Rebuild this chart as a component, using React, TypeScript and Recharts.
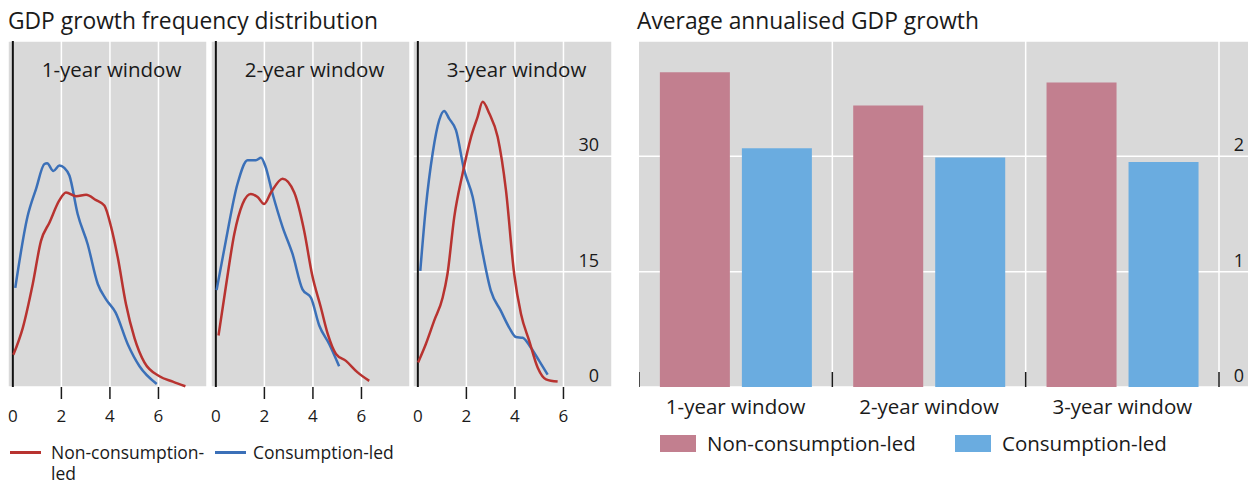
import React from "react";
import {
  LineChart,
  Line,
  XAxis,
  YAxis,
  CartesianGrid,
  ReferenceLine,
  BarChart,
  Bar,
} from "recharts";

const FONT = '"Open Sans", "Noto Sans", sans-serif';
const INK = "#1a1a1a";
const GRAY = "#d9d9d9";
const RED = "#b83330";
const BLUE = "#3b70b8";
const PINK = "#c27f8f";
const SKY = "#6aace0";

// left panels: kernel densities of GDP growth, [growth, frequency]
const windows = ["1-year window", "2-year window", "3-year window"];
const growthTicks = [0, 2, 4, 6];
const freqTicks = [0, 15, 30];

const nonCons1 = [
  [0.02, 4.2], [0.41, 7.7], [0.82, 13.4], [1.16, 19.0], [1.51, 21.4], [1.92, 24.3],
  [2.19, 25.3], [2.61, 24.8], [3.02, 25.0], [3.43, 24.3], [3.77, 23.6], [4.05, 20.8],
  [4.32, 16.9], [4.66, 10.8], [5.01, 6.4], [5.42, 3.2], [6.04, 1.4], [6.59, 0.7], [7.11, 0.1],
];
const cons1 = [
  [0.1, 12.9], [0.6, 22.1], [0.96, 25.8], [1.3, 29.0], [1.41, 29.1], [1.67, 28.1],
  [1.92, 28.8], [2.12, 28.5], [2.33, 27.5], [2.67, 22.5], [3.08, 18.6], [3.5, 13.4],
  [3.84, 11.4], [4.23, 9.7], [4.73, 5.6], [5.22, 2.7], [5.93, 0.4],
];
const nonCons2 = [
  [0.11, 6.7], [0.41, 13.0], [0.76, 19.9], [1.1, 23.8], [1.44, 25.1], [1.72, 24.7],
  [1.99, 23.8], [2.27, 25.3], [2.75, 27.1], [3.23, 25.3], [3.64, 20.3], [3.96, 14.7],
  [4.33, 10.3], [4.61, 6.9], [4.95, 4.3], [5.36, 3.4], [5.84, 1.9], [6.32, 0.8],
];
const cons2 = [
  [0.03, 12.6], [0.41, 19.0], [0.89, 26.4], [1.31, 29.5], [1.65, 29.5], [1.86, 29.8],
  [2.03, 28.8], [2.34, 25.1], [2.75, 20.8], [3.16, 17.3], [3.57, 12.7], [3.92, 11.6],
  [4.26, 8.0], [4.67, 5.6], [5.08, 2.7],
];
const nonCons3 = [
  [0.01, 3.2], [0.33, 5.6], [0.67, 8.6], [1.02, 11.6], [1.22, 14.7], [1.5, 22.1],
  [1.84, 27.7], [2.19, 32.5], [2.46, 35.1], [2.67, 37.1], [2.94, 35.6], [3.29, 32.5],
  [3.63, 25.6], [3.97, 14.7], [4.25, 9.5], [4.59, 6.0], [4.94, 2.5], [5.28, 1.0], [5.76, 0.7],
];
const cons3 = [
  [0.1, 15.1], [0.33, 23.4], [0.61, 30.4], [0.88, 34.7], [1.08, 35.9], [1.29, 34.9],
  [1.57, 33.4], [1.91, 28.2], [2.26, 24.7], [2.6, 18.6], [3.01, 12.5], [3.42, 9.9],
  [3.77, 7.7], [4.04, 6.5], [4.32, 6.4], [4.66, 5.1], [5.0, 3.4], [5.35, 1.6],
];

// right panel: average annualised GDP growth, %
const nonConsGrowth = [2.73, 2.44, 2.64];
const consGrowth = [2.07, 1.99, 1.95];
const growthAxisTicks = [0, 1, 2];

const panels = [
  { title: windows[0], nonCons: nonCons1, cons: cons1, left: 8 },
  { title: windows[1], nonCons: nonCons2, cons: cons2, left: 211 },
  { title: windows[2], nonCons: nonCons3, cons: cons3, left: 413 },
];

const toPoints = (rows: number[][]) => rows.map(([x, y]) => ({ x, y }));

const PANEL_W = 199;
const PLOT_TOP = 41;
const PLOT_H = 346;
const BAR_W = 609;
const BAR_PAD_R = 29;
const BAR_BAND = (BAR_W - BAR_PAD_R) / windows.length;

function GrowthTick({ x, y, payload }: any) {
  return (
    <g>
      {payload.value !== 0 && (
        <line x1={x} x2={x} y1={y} y2={y + 12} stroke={INK} strokeWidth={1.5} />
      )}
      <text x={x} y={y + 35} textAnchor="middle" fontSize={17} fill={INK} fontFamily={FONT}>
        {payload.value}
      </text>
    </g>
  );
}

function InsideRightTick({ x, y, payload, inset }: any) {
  return (
    <text x={x - inset} y={y - 5} textAnchor="end" fontSize={18} fill={INK} fontFamily={FONT}>
      {payload.value}
    </text>
  );
}

function WindowTick({ x, y, payload, index }: any) {
  const half = BAR_BAND / 2;
  return (
    <g>
      <line x1={x - half} x2={x - half} y1={y - 15} y2={y} stroke={INK} strokeWidth={1.5} />
      {index === windows.length - 1 && (
        <line x1={x + half} x2={x + half} y1={y - 15} y2={y} stroke={INK} strokeWidth={1.5} />
      )}
      <text x={x} y={y + 27} textAnchor="middle" fontSize={20.5} fill={INK} fontFamily={FONT}>
        {payload.value}
      </text>
    </g>
  );
}

function DensityPanel({ panel, showAxis }: { panel: (typeof panels)[number]; showAxis: boolean }) {
  return (
    <div style={{ position: "absolute", left: panel.left, top: PLOT_TOP }}>
      <LineChart width={PANEL_W} height={PLOT_H + 45} margin={{ top: 0, right: 0, bottom: 0, left: 0 }}>
        <CartesianGrid fill={GRAY} stroke="#fff" strokeWidth={1.5} />
        <XAxis
          type="number"
          dataKey="x"
          domain={[-0.2, 8]}
          ticks={growthTicks}
          allowDataOverflow
          axisLine={false}
          tickLine={false}
          tickSize={0}
          tickMargin={0}
          height={45}
          tick={<GrowthTick />}
        />
        <YAxis
          type="number"
          domain={[0, 45]}
          ticks={freqTicks}
          orientation="right"
          mirror
          width={1}
          axisLine={false}
          tickLine={false}
          tickSize={0}
          tickMargin={0}
          tick={showAxis ? <InsideRightTick inset={13} /> : false}
        />
        <ReferenceLine x={0} stroke="#111" strokeWidth={2} />
        <Line
          data={toPoints(panel.cons)}
          dataKey="y"
          type="monotone"
          stroke={BLUE}
          strokeWidth={2.5}
          dot={false}
          isAnimationActive={false}
        />
        <Line
          data={toPoints(panel.nonCons)}
          dataKey="y"
          type="monotone"
          stroke={RED}
          strokeWidth={2.5}
          dot={false}
          isAnimationActive={false}
        />
      </LineChart>
      <div
        style={{
          position: "absolute",
          left: 4,
          top: 15,
          width: PANEL_W,
          textAlign: "center",
          fontSize: 20.5,
          color: INK,
          lineHeight: "26px",
        }}
      >
        {panel.title}
      </div>
    </div>
  );
}

export default function App() {
  const barData = windows.map((w, i) => ({
    window: w,
    nonCons: nonConsGrowth[i],
    cons: consGrowth[i],
  }));

  return (
    <div
      style={{
        position: "absolute",
        left: 0,
        top: 0,
        width: 1252,
        height: 484,
        background: "#fff",
        fontFamily: FONT,
        color: INK,
      }}
    >
      <div style={{ position: "absolute", left: 8, top: 7, fontSize: 22.8, lineHeight: "28px" }}>
        GDP growth frequency distribution
      </div>
      <div style={{ position: "absolute", left: 637, top: 7, fontSize: 22.8, lineHeight: "28px" }}>
        Average annualised GDP growth
      </div>

      {panels.map((p, i) => (
        <DensityPanel key={p.title} panel={p} showAxis={i === panels.length - 1} />
      ))}

      {/* left legend */}
      <div style={{ position: "absolute", left: 10, top: 442, fontSize: 17.5, lineHeight: "21px" }}>
        <div style={{ position: "absolute", left: 0, top: 9, width: 31, height: 3, background: RED }} />
        <div style={{ position: "absolute", left: 41, top: 0, width: 162 }}>Non-consumption-led</div>
        <div style={{ position: "absolute", left: 205, top: 9, width: 31, height: 3, background: BLUE }} />
        <div style={{ position: "absolute", left: 243, top: 0, whiteSpace: "nowrap" }}>Consumption-led</div>
      </div>

      <div style={{ position: "absolute", left: 639, top: PLOT_TOP }}>
        <BarChart
          width={BAR_W}
          height={PLOT_H + 40}
          data={barData}
          margin={{ top: 0, right: 0, bottom: 0, left: 0 }}
          barCategoryGap="10.8%"
          barGap={12}
        >
          <CartesianGrid
            fill={GRAY}
            stroke="#fff"
            strokeWidth={1.5}
            verticalCoordinatesGenerator={({ offset }: any) =>
              windows.map((_, i) => offset.left + (i + 1) * ((offset.width - BAR_PAD_R) / windows.length))
            }
          />
          <XAxis
            dataKey="window"
            padding={{ left: 0, right: BAR_PAD_R }}
            axisLine={false}
            tickLine={false}
            tickSize={0}
            tickMargin={0}
            interval={0}
            height={40}
            tick={<WindowTick />}
          />
          <YAxis
            type="number"
            domain={[0, 3]}
            ticks={growthAxisTicks}
            orientation="right"
            mirror
            width={1}
            axisLine={false}
            tickLine={false}
            tickSize={0}
            tickMargin={0}
            tick={<InsideRightTick inset={4} />}
          />
          <Bar dataKey="nonCons" fill={PINK} isAnimationActive={false} />
          <Bar dataKey="cons" fill={SKY} isAnimationActive={false} />
        </BarChart>
      </div>

      {/* right legend */}
      <div style={{ position: "absolute", left: 660, top: 430, fontSize: 20.5, lineHeight: "27px" }}>
        <div style={{ position: "absolute", left: 0, top: 5, width: 36, height: 17, background: PINK }} />
        <div style={{ position: "absolute", left: 47, top: 0, whiteSpace: "nowrap" }}>Non-consumption-led</div>
        <div style={{ position: "absolute", left: 295, top: 5, width: 36, height: 17, background: SKY }} />
        <div style={{ position: "absolute", left: 342, top: 0, whiteSpace: "nowrap" }}>Consumption-led</div>
      </div>
    </div>
  );
}
